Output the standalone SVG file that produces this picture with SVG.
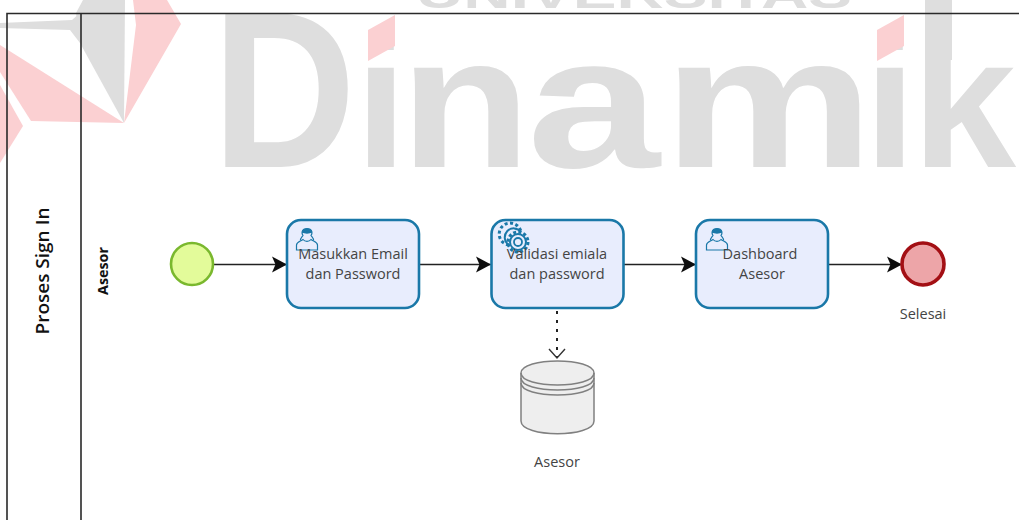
<svg xmlns="http://www.w3.org/2000/svg" width="1019" height="520" viewBox="0 0 1019 520">
<defs>
<marker id="arrow" markerUnits="userSpaceOnUse" markerWidth="16" markerHeight="18" refX="15" refY="9" orient="auto"><path d="M0 1 L15 9 L0 17 L3.500 9 Z" fill="#0d0d0d"/></marker>
<g id="user"><path d="M-6.500 0.500 C-7 -1 -5.500 -2.500 -4 -4.500 C-5.500 -6.500 -5.500 -11.500 0 -11.500 C5.500 -11.500 5.500 -6.500 4 -4.500 C5.500 -2.500 7 -1 6.500 0.500" fill="none" stroke="#1a78a8" stroke-width="1.2"/><path d="M-10.500 10 L-10.500 5 C-10.500 2 -7 1.500 -4 -0.500 C-2 2 2 2 4 -0.500 C7 1.500 10.500 2 10.500 5 L10.500 10 Z" fill="none" stroke="#1a78a8" stroke-width="1.2"/><path d="M-5.500 -7.500 C-2 -6 2 -6 5.500 -7.500 C5 -10.500 3 -11.500 0 -11.500 C-3 -11.500 -5 -10.500 -5.500 -7.500 Z" fill="#1a78a8"/></g>
<g id="gear" fill="none" stroke="#1a78a8">
<path d="M-5 7 A9 9 0 1 1 7 -6" stroke-width="2"/>
<path d="M-5 7 A11 11 0 1 1 7 -6" stroke-width="3" stroke-dasharray="3 2.500"/>
<circle cx="4" cy="4" r="8" stroke-width="2" fill="#e8edfd"/>
<circle cx="4" cy="4" r="10" stroke-width="3" stroke-dasharray="3 2.240"/>
<circle cx="4" cy="4" r="4" stroke-width="1.800"/>
</g>
</defs>
<style>
.task{fill:#e8edfd;stroke:#1a78a8;stroke-width:2.6}
.lbl{font-family:"Open Sans","Noto Sans",sans-serif;font-size:14.500px;fill:#444;text-anchor:middle}
.flow{fill:none;stroke:#222;stroke-width:1.4;marker-end:url(#arrow)}
.wm{font-family:"Liberation Sans",Arial,sans-serif;font-weight:bold;fill:#dedede}
.pool{fill:none;stroke:#2a2a2a;stroke-width:1.6}
</style>
<rect width="1019" height="520" fill="#fff"/>
<g id="watermark">
<polygon points="83,0 125,0 124,123 80,43 76,13" fill="#dedede"/>
<polygon points="0,23 72,20 80,13 80,43 70,30 0,28" fill="#dedede"/>
<polygon points="133,0 167,0 181,24 124,123 136,25" fill="#fbd0d2"/>
<polygon points="0,45 124,123 31,121 0,72" fill="#fbd0d2"/>
<polygon points="0,85 23,126 0,163" fill="#fbd0d2"/>
<text class="wm" font-size="40" x="416" y="8" textLength="436" lengthAdjust="spacingAndGlyphs">UNIVERSITAS</text>
<text class="wm" y="167"><tspan x="212" font-size="222" textLength="144" lengthAdjust="spacingAndGlyphs">D</tspan><tspan x="355" font-size="187" textLength="52" lengthAdjust="spacingAndGlyphs">i</tspan><tspan x="400" font-size="187" textLength="131" lengthAdjust="spacingAndGlyphs">n</tspan><tspan x="527" font-size="187" textLength="133" lengthAdjust="spacingAndGlyphs">a</tspan><tspan x="663" font-size="187" textLength="211" lengthAdjust="spacingAndGlyphs">m</tspan><tspan x="864" font-size="187" textLength="52" lengthAdjust="spacingAndGlyphs">i</tspan><tspan x="912" font-size="187" textLength="104" lengthAdjust="spacingAndGlyphs">k</tspan></text>
<rect x="925" y="0" width="27" height="60" fill="#dedede"/>
<polygon points="368,30 395,15 395,46 368,61" fill="#fbd0d2"/>
<polygon points="877,30 904,15 904,46 877,61" fill="#fbd0d2"/>
</g>
<g id="pool">
<path class="pool" d="M7 520 V13.500 H1019 M81 13.500 V520"/>
<text transform="translate(49,271) rotate(-90)" font-family="'Open Sans','Noto Sans',sans-serif" font-size="18" font-weight="600" fill="#111" text-anchor="middle" textLength="127" lengthAdjust="spacingAndGlyphs">Proses Sign In</text>
<text transform="translate(108,271) rotate(-90)" font-family="'Open Sans','Noto Sans',sans-serif" font-size="14" font-weight="700" fill="#111" text-anchor="middle" textLength="48" lengthAdjust="spacingAndGlyphs">Asesor</text>
</g>
<g id="connectors">
<line class="flow" x1="214" y1="264.500" x2="287" y2="264.500"/>
<line class="flow" x1="419" y1="264.500" x2="491" y2="264.500"/>
<line class="flow" x1="624" y1="264.500" x2="696" y2="264.500"/>
<line class="flow" x1="829" y1="264.500" x2="902" y2="264.500"/>
<line x1="557" y1="311" x2="557" y2="357" fill="none" stroke="#222" stroke-width="2" stroke-dasharray="3 6"/>
<path d="M549 349 L557 358 L565 349" fill="none" stroke="#333" stroke-width="1.400"/>
</g>
<g id="start"><circle cx="192" cy="264" r="21" fill="#e3fb9a" stroke="#7ab82e" stroke-width="2.600"/></g>
<g id="task1"><rect class="task" x="287" y="220" width="132" height="88" rx="14"/><use href="#user" x="307" y="240"/><text class="lbl" x="353" y="259">Masukkan Email</text><text class="lbl" x="353" y="279">dan Password</text></g>
<g id="task2"><rect class="task" x="491.500" y="220" width="132" height="88" rx="14"/><use href="#gear" x="514" y="238"/><text class="lbl" x="557" y="259">Validasi emiala</text><text class="lbl" x="557" y="279">dan password</text></g>
<g id="task3"><rect class="task" x="696" y="220" width="132" height="88" rx="14"/><use href="#user" x="717" y="240"/><text class="lbl" x="760" y="259">Dashboard</text><text class="lbl" x="762" y="279">Asesor</text></g>
<g id="end"><circle cx="923" cy="264" r="21" fill="#eda5a8" stroke="#a30f14" stroke-width="3.600"/><text class="lbl" x="923" y="319">Selesai</text></g>
<g id="db" fill="#eeeeee" stroke="#808080" stroke-width="1.500">
<path d="M521 373 C521 357 594 357 594 373 V421 C594 438 521 438 521 421 Z"/>
<path d="M521 373 C521 389 594 389 594 373" fill="none"/>
<path d="M521 378 C521 394 594 394 594 378" fill="none"/>
<path d="M521 383 C521 399 594 399 594 383" fill="none"/>
<text class="lbl" x="557" y="467" stroke="none">Asesor</text>
</g>
</svg>
